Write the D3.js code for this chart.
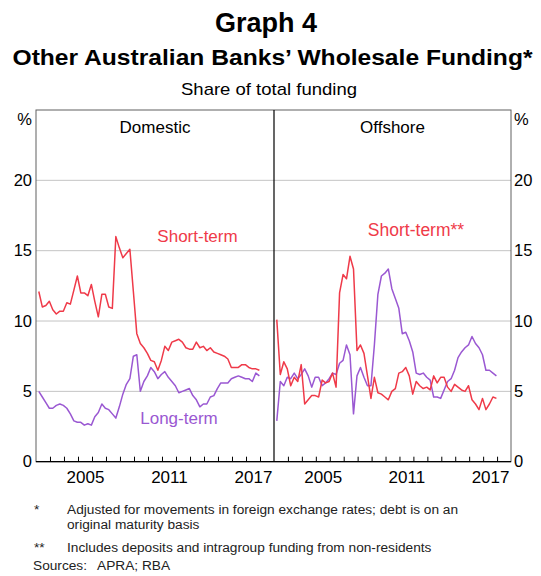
<!DOCTYPE html>
<html>
<head>
<meta charset="utf-8">
<script src="https://cdn.jsdelivr.net/npm/d3@7/dist/d3.min.js"></script>
<style>
  html, body { margin: 0; padding: 0; background: #fff; }
  svg { display: block; font-family: Arial, "Liberation Sans", sans-serif; }
</style>
</head>
<body>
<svg id="chart" width="541" height="576"></svg>
<script>
// ---- Data (quarterly, Mar 2002 – Dec 2017), per cent of total funding ----
const startYear = 2002;
const nQuarters = 64;

const domesticShort = [12.1,11.0,11.1,11.4,10.8,10.5,10.7,10.7,11.3,11.2,12.2,13.2,12.0,12.0,11.8,12.6,
  11.4,10.3,11.9,11.9,11.0,10.9,16.0,15.2,14.5,14.8,15.1,12.1,9.1,8.4,8.1,7.7,
  7.2,7.1,6.5,7.2,8.2,7.9,8.5,8.6,8.7,8.5,8.1,8.0,8.0,8.5,8.1,8.2,
  7.9,8.1,7.8,7.7,7.6,7.5,7.3,6.7,6.7,6.7,6.9,6.9,6.7,6.6,6.6,6.5];
const domesticLong = [5.0,4.6,4.2,3.8,3.8,4.0,4.1,4.0,3.8,3.4,2.9,2.8,2.8,2.6,2.7,2.6,
  3.2,3.5,4.1,3.8,3.7,3.4,3.1,3.9,4.8,5.5,5.9,7.5,7.6,5.0,5.7,6.1,
  6.7,6.4,5.9,6.2,6.4,6.0,5.7,5.4,4.9,5.0,5.1,5.2,4.7,4.4,3.9,4.1,
  4.1,4.6,4.7,5.2,5.6,5.6,5.6,5.9,6.0,6.1,6.0,5.9,5.9,5.7,6.3,6.1];
const offshoreShort = [10.1,6.2,7.1,6.6,5.4,6.0,5.7,6.9,4.1,4.4,4.7,4.7,4.6,5.8,5.6,5.7,
  6.3,5.3,12.0,13.3,13.0,14.6,13.7,7.9,8.3,7.7,6.1,4.5,6.0,4.9,4.8,4.6,
  4.4,5.0,5.2,6.3,6.4,6.7,6.1,4.8,5.7,5.4,5.2,5.3,5.1,6.1,5.6,6.0,
  6.0,5.3,5.0,5.5,5.3,5.1,5.0,5.4,4.4,4.1,3.7,4.5,3.7,4.1,4.6,4.5];
const offshoreLong = [2.9,5.7,5.4,6.0,5.9,6.3,5.9,6.2,6.6,6.1,5.3,6.0,6.0,5.4,5.6,5.9,
  6.3,6.2,7.0,7.2,8.3,7.6,3.4,6.1,6.7,6.0,5.4,5.4,8.3,11.9,13.2,13.4,
  13.7,12.3,11.6,10.9,9.1,9.2,8.6,7.8,6.3,6.2,6.3,6.0,5.8,4.6,4.6,4.5,
  5.1,5.7,5.9,6.5,7.4,7.8,8.1,8.3,8.9,8.4,8.1,7.6,6.5,6.5,6.3,6.1];

const yTicks = [0, 5, 10, 15, 20];
const yearLabels = [2005, 2011, 2017];
const panelNames = ["Domestic", "Offshore"];
const footnotes = [
  ["*", "Adjusted for movements in foreign exchange rates; debt is on an"],
  ["", "original maturity basis"],
  ["**", "Includes deposits and intragroup funding from non-residents"]
];
const sourcesText = "APRA; RBA";

// ---- Layout ----
const svg = d3.select("#chart");
const plotTop = 110, plotBottom = 461.7;
const panels = [
  { x0: 36, x1: 274, name: panelNames[0], short: domesticShort, long: domesticLong },
  { x0: 274, x1: 511, name: panelNames[1], short: offshoreShort, long: offshoreLong }
];
const red = "#ef3a49", purple = "#9a58d2";

const y = d3.scaleLinear().domain([0, 25]).range([plotBottom, plotTop]);
const dates = d3.range(nQuarters).map(i => new Date(startYear, 2 + 3 * i, 15));

// Titles
svg.append("text").attr("x", 266).attr("y", 32).attr("text-anchor", "middle")
  .attr("font-size", 27).attr("font-weight", "bold").text("Graph 4");
svg.append("text").attr("x", 272.5).attr("y", 65).attr("text-anchor", "middle")
  .attr("font-size", 22.5).attr("font-weight", "bold")
  .attr("textLength", 520).attr("lengthAdjust", "spacingAndGlyphs")
  .text("Other Australian Banks’ Wholesale Funding*");
svg.append("text").attr("x", 269).attr("y", 95).attr("text-anchor", "middle")
  .attr("font-size", 17).attr("textLength", 176).attr("lengthAdjust", "spacingAndGlyphs")
  .text("Share of total funding");

// Gridlines
svg.append("g").selectAll("line").data(yTicks.filter(d => d > 0)).join("line")
  .attr("x1", panels[0].x0).attr("x2", panels[1].x1)
  .attr("y1", d => y(d)).attr("y2", d => y(d))
  .attr("stroke", "#c4c4c4").attr("stroke-width", 1);

// Y axes
const yAxisL = d3.axisLeft(y).tickValues(yTicks).tickSize(0).tickPadding(4);
const yAxisR = d3.axisRight(y).tickValues(yTicks).tickSize(0).tickPadding(3);
const gL = svg.append("g").attr("transform", `translate(${panels[0].x0},0)`).call(yAxisL);
const gR = svg.append("g").attr("transform", `translate(${panels[1].x1},0)`).call(yAxisR);
[gL, gR].forEach(g => {
  g.select(".domain").remove();
  g.selectAll("text").attr("font-size", 16.5).attr("fill", "#000")
    .attr("font-family", "Arial, 'Liberation Sans', sans-serif");
});
svg.append("text").attr("x", 32).attr("y", 125).attr("text-anchor", "end").attr("font-size", 16.5).text("%");
svg.append("text").attr("x", 514).attr("y", 125).attr("font-size", 16.5).text("%");

// Panels
panels.forEach(p => {
  const x = d3.scaleTime()
    .domain([new Date(startYear, 0, 1), new Date(2019, 0, 1)])
    .range([p.x0, p.x1]);

  const tickYears = d3.range(2003, 2019).map(yr => new Date(yr, 0, 1));
  const xAxis = d3.axisTop(x).tickValues(tickYears).tickSize(5).tickFormat("");
  const gx = svg.append("g").attr("transform", `translate(0,${plotBottom})`).call(xAxis);
  gx.select(".domain").remove();
  gx.selectAll("line").attr("stroke", "#000");

  const labAxis = d3.axisBottom(x).tickValues(yearLabels.map(yr => new Date(yr, 6, 1)))
    .tickSize(0).tickPadding(9).tickFormat(d3.timeFormat("%Y"));
  const gl = svg.append("g").attr("transform", `translate(0,${plotBottom})`).call(labAxis);
  gl.select(".domain").remove();
  gl.selectAll("text").attr("font-size", 17).attr("fill", "#000")
    .attr("font-family", "Arial, 'Liberation Sans', sans-serif");

  const line = d3.line().x((d, i) => x(dates[i])).y(d => y(d));
  svg.append("path").datum(p.long).attr("d", line).attr("fill", "none")
    .attr("stroke", purple).attr("stroke-width", 1.5).attr("stroke-linejoin", "round");
  svg.append("path").datum(p.short).attr("d", line).attr("fill", "none")
    .attr("stroke", red).attr("stroke-width", 1.5).attr("stroke-linejoin", "round");

  svg.append("text").attr("x", (p.x0 + p.x1) / 2).attr("y", 133).attr("text-anchor", "middle")
    .attr("font-size", 17).text(p.name);
});

// Frame
svg.append("rect").attr("x", panels[0].x0).attr("y", plotTop)
  .attr("width", panels[1].x1 - panels[0].x0).attr("height", plotBottom - plotTop)
  .attr("fill", "none").attr("stroke", "#606060").attr("stroke-width", 1);
svg.append("line").attr("x1", 274).attr("x2", 274).attr("y1", plotTop).attr("y2", plotBottom)
  .attr("stroke", "#000").attr("stroke-width", 1.2);
svg.append("line").attr("x1", panels[0].x0).attr("x2", panels[1].x1).attr("y1", plotBottom).attr("y2", plotBottom)
  .attr("stroke", "#000").attr("stroke-width", 1.2);

// Series labels
svg.append("text").attr("x", 197.5).attr("y", 242).attr("text-anchor", "middle")
  .attr("font-size", 17).attr("fill", red).text("Short-term");
svg.append("text").attr("x", 179).attr("y", 424).attr("text-anchor", "middle")
  .attr("font-size", 17).attr("fill", purple).text("Long-term");
svg.append("text").attr("x", 416).attr("y", 236).attr("text-anchor", "middle")
  .attr("font-size", 17.5).attr("fill", red).text("Short-term**");

// Footnotes
const fy = [514, 529, 552];
footnotes.forEach((f, i) => {
  svg.append("text").attr("x", 34).attr("y", fy[i]).attr("font-size", 13.7).attr("fill", "#222").text(f[0]);
  svg.append("text").attr("x", 67).attr("y", fy[i]).attr("font-size", 13.7).attr("fill", "#222").text(f[1]);
});
svg.append("text").attr("x", 33).attr("y", 570).attr("font-size", 13.7).attr("fill", "#222").text("Sources:");
svg.append("text").attr("x", 97).attr("y", 570).attr("font-size", 13.7).attr("fill", "#222").text(sourcesText);
</script>
</body>
</html>
